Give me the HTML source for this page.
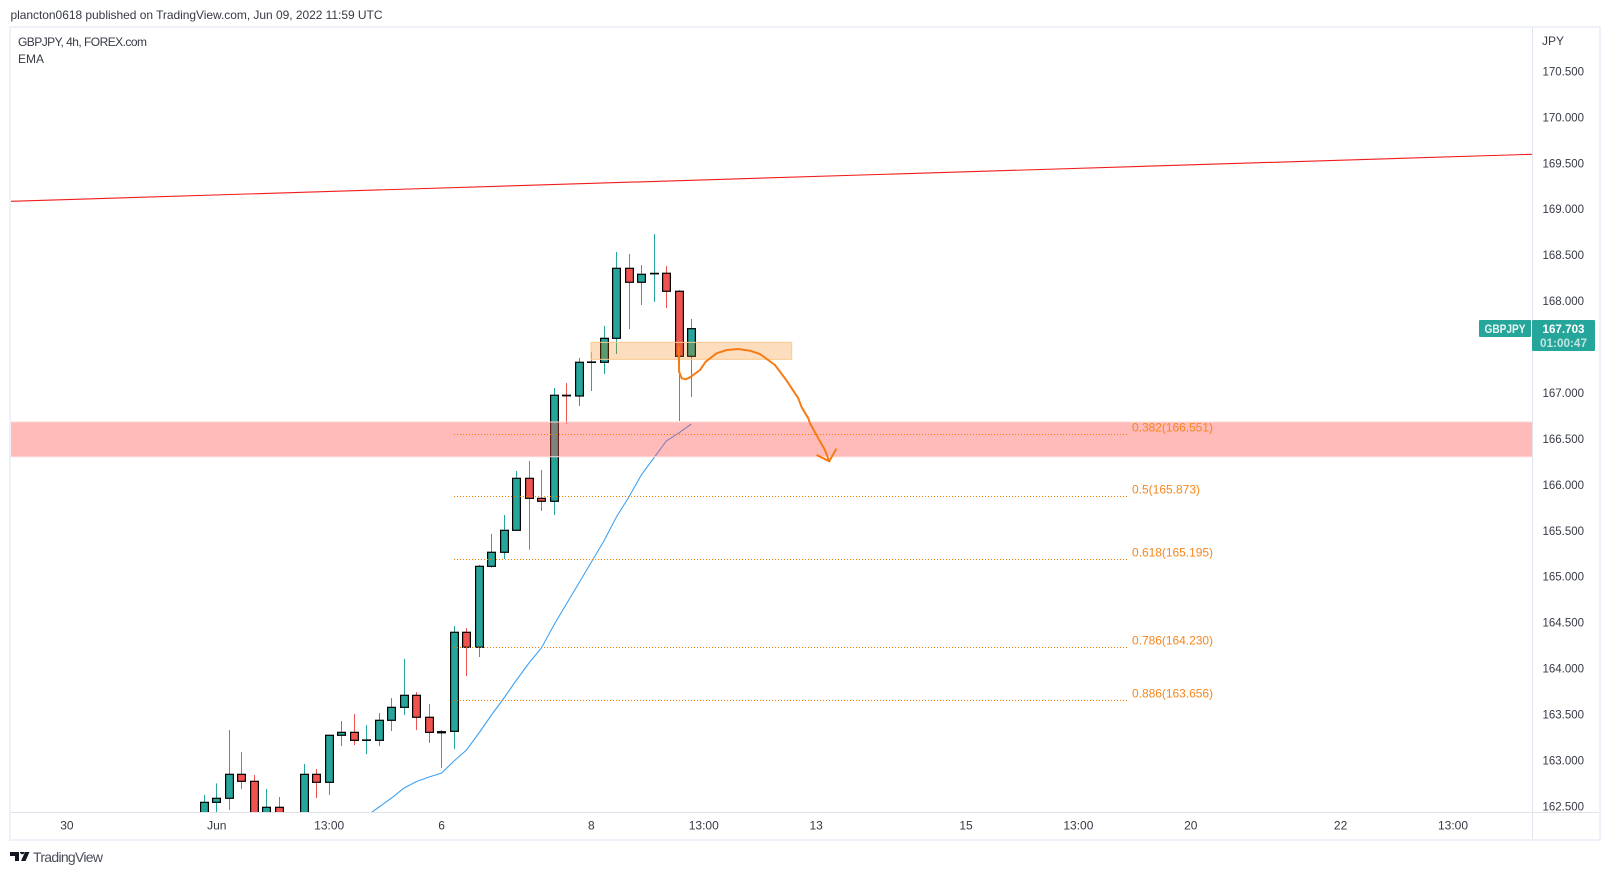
<!DOCTYPE html>
<html lang="en">
<head>
<meta charset="utf-8">
<title>GBPJPY 4h chart</title>
<style>
html,body{margin:0;padding:0;background:#fff;}
body{width:1610px;height:875px;overflow:hidden;font-family:"Liberation Sans",sans-serif;}
svg{display:block;}
text{font-family:"Liberation Sans",sans-serif;}
</style>
</head>
<body>
<svg id="chart" xmlns="http://www.w3.org/2000/svg" width="1610" height="875" viewBox="0 0 1610 875">
  <defs>
    <clipPath id="pane-clip"><rect x="11" y="28" width="1521" height="784"></rect></clipPath>
  </defs>
  <rect x="0" y="0" width="1610" height="875" fill="#ffffff"></rect>
  <text x="10.5" y="19" font-size="12" fill="#363a45" textLength="372" lengthAdjust="spacing">plancton0618 published on TradingView.com, Jun 09, 2022 11:59 UTC</text>
  <g id="pane" clip-path="url(#pane-clip)"></g>
  <line x1="1532.5" y1="27" x2="1532.5" y2="840" stroke="#e0e3eb" stroke-width="1"></line>
  <line x1="10" y1="812.5" x2="1600" y2="812.5" stroke="#e0e3eb" stroke-width="1"></line>
  <rect x="10" y="27" width="1590" height="813" fill="none" stroke="#eef1f7" stroke-width="2"></rect>
  <text x="18" y="46" font-size="12" fill="#363a45" textLength="129" lengthAdjust="spacing">GBPJPY, 4h, FOREX.com</text>
  <text x="18" y="63" font-size="12" fill="#363a45">EMA</text>
  <text x="1542" y="45" font-size="12" fill="#363a45">JPY</text>
  <g id="price-axis"></g>
  <g id="time-axis"></g>
  <rect x="1479" y="320" width="52" height="17" rx="1" fill="#26a69a"></rect>
  <text x="1505" y="333" font-size="12" font-weight="bold" fill="#e8f6f4" text-anchor="middle" textLength="41" lengthAdjust="spacingAndGlyphs">GBPJPY</text>
  <rect x="1532" y="320" width="63" height="31" rx="1" fill="#26a69a"></rect>
  <text id="last-price-text" x="1563.5" y="333" font-size="12" font-weight="bold" fill="#ffffff" text-anchor="middle" textLength="42" lengthAdjust="spacingAndGlyphs"></text>
  <text x="1563.5" y="347" font-size="12" font-weight="bold" fill="#bfe5e1" text-anchor="middle" textLength="47" lengthAdjust="spacingAndGlyphs">01:00:47</text>
  <g>
    <path d="M10 852h9v9h-4v-5h-5zM20 852h4.500a2 2 0 1 1-4.500 0zM25 852h4.500l-4 9h-4.500z" fill="#131722"></path>
    <text x="33" y="862" font-size="14" fill="#4a4e59" textLength="70" lengthAdjust="spacing">TradingView</text>
  </g>
</svg>
<script>
// ---- Chart data ----
var opens  = [162.409,162.547,162.591,162.852,162.776,162.355,162.493,162.246,162.355,162.852,162.765,163.277,163.309,163.222,163.222,163.440,163.581,163.712,163.473,163.316,163.320,164.398,164.235,165.116,165.269,165.508,166.074,165.856,165.824,166.978,166.970,167.337,167.337,167.598,168.360,168.208,168.300,168.306,168.110,167.402];
var highs  = [162.627,162.754,163.334,163.095,162.845,162.692,162.605,162.409,162.964,162.910,163.277,163.432,163.508,163.389,163.519,163.683,164.107,163.748,163.617,163.334,164.466,164.445,165.130,165.468,165.675,166.154,166.262,166.164,167.057,167.111,167.384,167.449,167.732,168.537,168.516,168.396,168.733,168.385,168.124,167.808];
var lows   = [162.300,162.355,162.464,162.692,162.300,162.246,162.191,162.137,162.300,162.594,162.627,163.160,163.171,163.073,163.160,163.323,163.498,163.334,163.193,162.921,163.128,163.922,164.129,165.101,165.196,165.508,165.297,165.718,165.675,166.668,166.861,167.024,167.209,167.427,167.699,167.961,167.993,167.928,166.698,166.959];
var closes = [162.547,162.591,162.852,162.776,162.409,162.493,162.300,162.355,162.852,162.765,163.277,163.309,163.222,163.226,163.440,163.581,163.712,163.473,163.309,163.304,164.398,164.235,165.116,165.269,165.508,166.074,165.856,165.824,166.978,166.972,167.337,167.340,167.598,168.360,168.208,168.295,168.305,168.110,167.402,167.703];
var emaStartBar = 13;
var emaValues = [162.398,162.496,162.594,162.703,162.774,162.823,162.866,162.997,163.117,163.302,163.498,163.683,163.879,164.064,164.227,164.477,164.706,164.935,165.163,165.392,165.653,165.871,166.110,166.295,166.480,166.567,166.665];
var priceTicks = [170.5,170,169.5,169,168.5,168,167,166.5,166,165.5,165,164.5,164,163.5,163,162.5];
var timeTickBars = [-11,1,10,19,31,40,49,61,70,79,91,100];
var timeTickLabels = ["30","Jun","13:00","6","8","13:00","13","15","13:00","20","22","13:00"];
var fibRatios = ["0.382","0.5","0.618","0.786","0.886"];
var fibPrices = [166.551,165.873,165.195,164.230,163.656];
var fibStartBar = 20;
var fibEndBar = 73.9;
var trendBars = [-15.56,106.33];
var trendPrices = [169.089,169.601];
var supportZonePrices = [166.687,166.309];
var entryZonePrices = [167.554,167.369];
var entryZoneBars = [30.97,47.04];
var brushBars = [37.99,38.02,38.23,38.55,38.90,39.70,40.15,41.03,41.84,42.76,43.70,44.50,45.70,46.64,47.57,47.84,48.37,48.51,49.17,49.70,50.05];
var brushPrices = [167.507,167.234,167.163,167.152,167.174,167.253,167.343,167.435,167.471,167.482,167.463,167.427,167.307,167.137,166.945,166.847,166.727,166.673,166.510,166.382,166.259];
var arrowBars = [49.09,50.05,50.59];
var arrowPrices = [166.325,166.259,166.390];
var lastPrice = 167.703;

// ---- Axis functions ----
function xScale(bar){ return 204.3 + 12.487 * bar; }
function yScale(price){ return 71.7 + (170.5 - price) * 91.87; }

var NS = "http://www.w3.org/2000/svg";
var pane = document.getElementById("pane");
function make(tag, parent, attrs){
  var el = document.createElementNS(NS, tag);
  for (var k in attrs) el.setAttribute(k, attrs[k]);
  parent.appendChild(el);
  return el;
}

// Candles
opens.forEach(function(o, i){
  var c = closes[i], up = c >= o, color = up ? "#26a69a" : "#ef5350";
  var x = Math.floor(xScale(i) + 0.2) + 0.5;
  var wick = make("line", pane, {x1:x, x2:x, y1:yScale(highs[i]), y2:yScale(lows[i]), stroke:color, "stroke-width":1});
  
  
  var top = yScale(Math.max(o, c)), bottom = yScale(Math.min(o, c));
  var body = make("rect", pane, {x:x-3.9, y:top, width:7.8, height:Math.max(bottom-top, 0.4), fill:color, stroke:"#000000", "stroke-width":1.2});
  
  
});

// EMA line
var emaPts = emaValues.map(function(v, i){ return xScale(emaStartBar + i).toFixed(1) + "," + yScale(v).toFixed(1); }).join(" ");
var ema = make("polyline", pane, {points:emaPts, fill:"none", stroke:"#3fa2f3", "stroke-width":1.1});



// Trendline
var trend = make("line", pane, {x1:xScale(trendBars[0]), y1:yScale(trendPrices[0]), x2:xScale(trendBars[1]), y2:yScale(trendPrices[1]), stroke:"#f21c1c", "stroke-width":1.1});



// Support zone
var zoneTop = yScale(supportZonePrices[0]), zoneBottom = yScale(supportZonePrices[1]);
var zone = make("rect", pane, {x:0, y:zoneTop, width:1540, height:zoneBottom-zoneTop, fill:"#ff5252", "fill-opacity":0.4, stroke:"#ffd6d6", "stroke-width":1});



// Entry zone
var eTop = yScale(entryZonePrices[0]), eBottom = yScale(entryZonePrices[1]);
var eLeft = xScale(entryZoneBars[0]), eRight = xScale(entryZoneBars[1]);
var entry = make("rect", pane, {x:eLeft, y:eTop, width:eRight-eLeft, height:eBottom-eTop, fill:"#f57c00", "fill-opacity":0.25, stroke:"#fbc98f", "stroke-width":1});



// Fibonacci levels
fibPrices.forEach(function(p, i){
  var y = Math.round(yScale(p) - 0.5) + 0.5;
  var ln = make("line", pane, {x1:xScale(fibStartBar), x2:xScale(fibEndBar), y1:y, y2:y, stroke:"#f57c00", "stroke-width":1, "stroke-dasharray":"1 2"});
  
  
  var t = make("text", pane, {x:1132, y:y+(-2.8), "font-size":12, fill:"#f7861c", textLength:i===1?68:81, lengthAdjust:"spacing"});
  
  
  t.textContent = fibRatios[i] + "(" + p.toFixed(3) + ")";
});

// Freehand path and arrow head
var brushPts = brushPrices.map(function(p, i){ return xScale(brushBars[i]).toFixed(1) + "," + yScale(p).toFixed(1); }).join(" ");
var brush = make("polyline", pane, {points:brushPts, fill:"none", stroke:"#f57c14", "stroke-width":2, "stroke-linejoin":"round", "stroke-linecap":"round"});


var arrowPts = arrowPrices.map(function(p, i){ return xScale(arrowBars[i]).toFixed(1) + "," + yScale(p).toFixed(1); }).join(" ");
var arrow = make("polyline", pane, {points:arrowPts, fill:"none", stroke:"#f57c14", "stroke-width":2, "stroke-linejoin":"round", "stroke-linecap":"round"});



// Price axis
var priceAxis = document.getElementById("price-axis");
priceTicks.forEach(function(p){
  var t = make("text", priceAxis, {x:1542.5, y:yScale(p)+3.7, "font-size":11.5, fill:"#363a45"});
  
  
  t.textContent = p.toFixed(3);
});

// Time axis
var timeAxis = document.getElementById("time-axis");
timeTickBars.forEach(function(b, i){
  var t = make("text", timeAxis, {x:xScale(b), y:829.5, "font-size":12, fill:"#363a45", "text-anchor":"middle"});
  
  
  t.textContent = timeTickLabels[i];
});

document.getElementById("last-price-text").textContent = lastPrice.toFixed(3);
</script>
</body>
</html>
